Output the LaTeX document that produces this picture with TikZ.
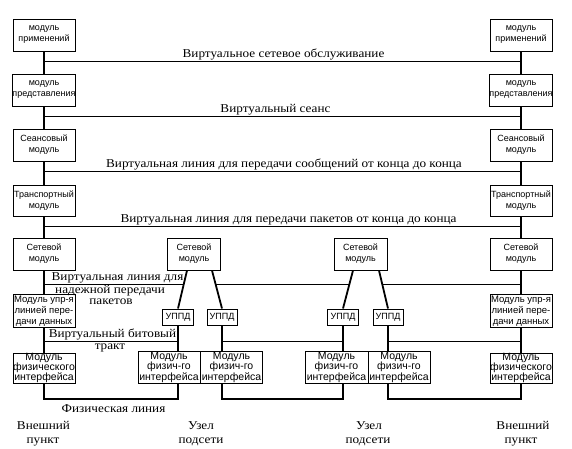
\documentclass[tikz,border=0pt]{standalone}
\usepackage{fontspec}
\setmainfont{Liberation Serif}[FakeStretch=1.1]
\newfontfamily\boxfont{Liberation Sans}
\usetikzlibrary{calc}
\begin{document}
\begin{tikzpicture}[x=1pt,y=-1pt,
  mod/.style={draw, line width=1pt, fill=white, inner sep=0pt, align=center,
    minimum width=62pt, minimum height=32pt, font=\boxfont\fontsize{9}{11}\selectfont},
  dlmod/.style={mod, minimum height=33pt, font=\boxfont\fontsize{9.5}{11}\selectfont},
  phys/.style={mod, minimum height=30pt, font=\boxfont\fontsize{10.5}{10}\selectfont},
  nphys/.style={mod, minimum height=29pt, font=\boxfont\fontsize{10.5}{9}\selectfont},
  netmod/.style={mod, minimum width=53pt, minimum height=32pt},
  uppd/.style={mod, minimum width=31pt, minimum height=16pt, font=\boxfont\fontsize{9}{10}\selectfont},
  stack/.style={line width=2.8pt},
  link/.style={line width=0.9pt},
  diag/.style={line width=1.8pt},
  lbl/.style={font=\fontsize{12}{12}\selectfont, inner sep=0pt, anchor=base},
]
\useasboundingbox (0,0) rectangle (572,448);

% left end station
\node[mod] (A1) at (44,35) {модуль\\применений};
\node[mod] (A2) at (44,90) {модуль\\представления};
\node[mod] (A3) at (44,145) {Сеансовый\\модуль};
\node[mod, minimum height=31pt] (A4) at (44,201) {Транспортный\\модуль};
\node[mod] (A5) at (44,254) {Сетевой\\модуль};
\node[dlmod] (A6) at (44,311) {Модуль упр-я\\линией пере-\\дачи данных};
\node[phys] (A7) at (44,368) {Модуль\\физического\\интерфейса};

% right end station
\node[mod] (B1) at (521,35) {модуль\\применений};
\node[mod] (B2) at (521,90) {модуль\\представления};
\node[mod] (B3) at (521,145) {Сеансовый\\модуль};
\node[mod, minimum height=31pt] (B4) at (521,201) {Транспортный\\модуль};
\node[mod] (B5) at (521,254) {Сетевой\\модуль};
\node[dlmod] (B6) at (521,311) {Модуль упр-я\\линией пере-\\дачи данных};
\node[phys] (B7) at (521,368) {Модуль\\физического\\интерфейса};

% subnet node 1
\node[netmod] (N1) at (194,254) {Сетевой\\модуль};
\node[uppd] (U1a) at (178,317) {УППД};
\node[uppd, minimum width=30pt] (U1b) at (222,317) {УППД};
\node[nphys] (P1a) at (169,367.5) {Модуль\\физич-го\\интерфейса};
\node[nphys] (P1b) at (231.5,367.5) {Модуль\\физич-го\\интерфейса};

% subnet node 2
\node[netmod] (N2) at (360.5,254) {Сетевой\\модуль};
\node[uppd] (U2a) at (343,317) {УППД};
\node[uppd, minimum width=30pt] (U2b) at (388,317) {УППД};
\node[nphys, minimum width=63pt] (P2a) at (336.5,367.5) {Модуль\\физич-го\\интерфейса};
\node[nphys] (P2b) at (399,367.5) {Модуль\\физич-го\\интерфейса};

% stack lines
\foreach \a/\b in {A1/A2,A2/A3,A3/A4,A4/A5,A5/A6,A6/A7,B1/B2,B2/B3,B3/B4,B4/B5,B5/B6,B6/B7}
  \draw[stack] (\a.south) -- (\b.north);

% node internal connections
\draw[diag] ($(N1.south)+(-7,0)$) -- (U1a.north) coordinate[pos=0.36] (k1a);
\draw[diag] ($(N1.south)+(18,0)$) -- (U1b.north) coordinate[pos=0.36] (k1b);
\draw[diag] ($(N2.south)+(-7.5,0)$) -- (U2a.north) coordinate[pos=0.36] (k2a);
\draw[diag] ($(N2.south)+(18.5,0)$) -- (U2b.north) coordinate[pos=0.36] (k2b);
\draw[stack] (U1a.south) -- (U1a.south |- P1a.north);
\draw[stack] (U1b.south) -- (U1b.south |- P1b.north);
\draw[stack] (U2a.south) -- (U2a.south |- P2a.north);
\draw[stack] (U2b.south) -- (U2b.south |- P2b.north);

% end-to-end virtual lines
\coordinate (h1) at (0,61);
\coordinate (h2) at (0,116);
\coordinate (h3) at (0,171);
\coordinate (h4) at (0,226);
\draw[link] (A1.south |- h1) -- (B1.south |- h1);
\draw[link] (A2.south |- h2) -- (B2.south |- h2);
\draw[link] (A3.south |- h3) -- (B3.south |- h3);
\draw[link] (A4.south |- h4) -- (B4.south |- h4);

% data link virtual lines
\draw[link] (A5.south |- k1a) -- (k1a);
\draw[link] (k1b) -- (k2a);
\draw[link] (k2b) -- (B5.south |- k2b);

% bit path virtual lines
\coordinate (bt) at (0,341);
\draw[link] (A6.south |- bt) -- (U1a.south |- bt);
\draw[link] (U1b.south |- bt) -- (U2a.south |- bt);
\draw[link] (U2b.south |- bt) -- (B6.south |- bt);

% physical lines
\coordinate (ph) at (0,399);
\draw[stack] (A7.south) |- (U1a.south |- ph) -- (U1a.south |- P1a.south);
\draw[stack] (U1b.south |- P1b.south) |- (U2a.south |- ph) -- (U2a.south |- P2a.south);
\draw[stack] (U2b.south |- P2b.south) |- (B7.south |- ph) -- (B7.south);

% labels
\node[lbl] (t1) at (283.5,57) {Виртуальное сетевое обслуживание};
\node[lbl] (t2) at (275.5,112) {Виртуальный сеанс};
\node[lbl] (t3) at (284,167) {Виртуальная линия для передачи сообщений от конца до конца};
\node[lbl] (t4) at (288.5,222) {Виртуальная линия для передачи пакетов от конца до конца};
\node[lbl] (t5) at (117.5,280.5) {Виртуальная линия для};
\node[lbl] (t6) at (110,293.5) {надежной передачи};
\node[lbl] (t7) at (111,304) {пакетов};
\node[lbl] (t8) at (112.5,337.5) {Виртуальный битовый};
\node[lbl] (t9) at (110,349.5) {тракт};
\node[lbl] (t10) at (113.5,412) {Физическая линия};
\node[lbl] (e1a) at (43.5,429) {Внешний};
\node[lbl] (e1b) at (43,443.5) {пункт};
\node[lbl] (s1a) at (201,429) {Узел};
\node[lbl] (s1b) at (201,443.5) {подсети};
\node[lbl] (s2a) at (369,429) {Узел};
\node[lbl] (s2b) at (368,443.5) {подсети};
\node[lbl] (e2a) at (523,429) {Внешний};
\node[lbl] (e2b) at (521,443.5) {пункт};
\end{tikzpicture}
\end{document}
